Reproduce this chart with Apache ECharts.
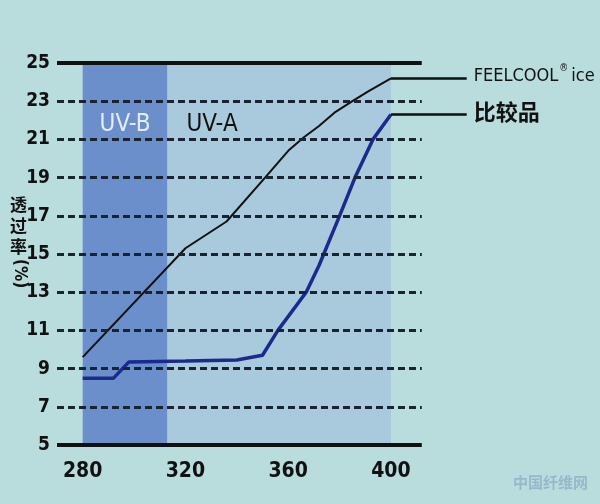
<!DOCTYPE html>
<html>
<head>
<meta charset="utf-8">
<script src="https://cdn.jsdelivr.net/npm/echarts@6/dist/echarts.min.js"></script>
<style>
html,body{margin:0;padding:0;background:#b9dcdc;}
#chart{width:600px;height:504px;}
</style>
</head>
<body>
<div id="chart"></div>
<script>
// ---- data ----
const X_TICKS = [280, 320, 360, 400];
const Y_TICKS = [5, 7, 9, 11, 13, 15, 17, 19, 21, 23, 25];
const DASHED_LEVELS = [7, 9, 11, 13, 15, 17, 19, 21, 23];
const SOLID_LEVELS = [5, 25];
const BAND_NAMES = ['UV-B', 'UV-A'];
const BAND_RANGES = [[280, 313], [313, 400]];
const SERIES_NAMES = ['FEELCOOL® ice', '比较品'];
const FEELCOOL = [[280, 9.6], [320, 15.3], [336, 16.7], [351, 19.0], [360, 20.4], [366, 21.1],
                  [372, 21.7], [378, 22.4], [385, 23.0], [391, 23.5], [400, 24.2]];
const COMPARE = [[280, 8.5], [292, 8.5], [298, 9.35], [320, 9.4], [340, 9.45], [350, 9.7],
                 [356, 11.0], [367, 13.0], [372, 14.4], [380, 17.0], [386, 19.0], [393, 21.0], [400, 22.3]];
const X_MIN = 270, X_MAX = 430, RULE_END = 412, Y_MIN = 5, Y_MAX = 25;
const LEADER_END = 429.5;
const Y_NAME_MAIN = '透\n过\n率';
const Y_NAME_UNIT = '(%)';

const NARROW = "'Liberation Sans Narrow','DejaVu Sans Condensed','Liberation Sans',sans-serif";
const CJK = "'Noto Sans CJK SC','Noto Sans CJK JP',sans-serif";

const chart = echarts.init(document.getElementById('chart'), null, {renderer: 'canvas'});

const dashedData = DASHED_LEVELS.map(v => [{coord: [X_MIN, v]}, {coord: [RULE_END, v]}]);
const solidData = SOLID_LEVELS.map(v => [
  {coord: [X_MIN, v], lineStyle: {type: 'solid', width: 4, color: '#111'}},
  {coord: [RULE_END, v]}
]);
const bandColors = ['#6b8fca', '#a8cadc'];
const bandLabels = [
  {show: true, position: ['50%', 50], align: 'center', color: '#e4ecf8', fontSize: 24, fontFamily: NARROW},
  {show: true, position: [19, 50], color: '#111', fontSize: 24, fontFamily: NARROW}
];
const bandData = BAND_RANGES.map((r, i) => [
  {name: BAND_NAMES[i], coord: [r[0], Y_MIN], itemStyle: {color: bandColors[i]}, label: bandLabels[i]},
  {coord: [r[1], Y_MAX]}
]);

function leader(series, labelOpt) {
  const last = series[series.length - 1];
  return {
    silent: true,
    symbol: ['none', 'none'],
    animation: false,
    lineStyle: {color: '#111', width: 2.5, type: 'solid'},
    label: labelOpt,
    data: [[{coord: [last[0], last[1]]}, {coord: [LEADER_END, last[1]]}]]
  };
}

const option = {
  backgroundColor: '#b9dcdc',
  animation: false,
  grid: {left: 57, right: 132, top: 63, bottom: 59},
  xAxis: {
    type: 'value', min: X_MIN, max: X_MAX,
    axisLine: {show: false},
    axisTick: {show: false},
    splitLine: {show: false},
    axisLabel: {customValues: X_TICKS, color: '#111', fontSize: 21, fontWeight: 'bold', fontFamily: NARROW, margin: 16}
  },
  yAxis: {
    type: 'value', min: Y_MIN, max: Y_MAX,
    axisLine: {show: false}, axisTick: {show: false}, splitLine: {show: false},
    axisLabel: {customValues: Y_TICKS, color: '#111', fontSize: 19, fontWeight: 'bold', fontFamily: NARROW, margin: 7}
  },
  graphic: [{
    type: 'text', x: 10, y: 194, silent: true,
    style: {text: Y_NAME_MAIN, fill: '#111', font: "bold 17px 'Noto Sans CJK SC'", lineHeight: 21, align: 'left', verticalAlign: 'top'}
  }, {
    type: 'text', x: 19, y: 259, rotation: -Math.PI / 2, silent: true,
    style: {text: Y_NAME_UNIT, fill: '#111', font: "bold 17px 'DejaVu Sans Condensed'", align: 'left', verticalAlign: 'middle'}
  }, {
    type: 'text', right: 12, bottom: 14, silent: true,
    style: {text: '中国纤维网', fill: 'rgba(110,140,185,0.45)', font: "bold 15px 'Noto Sans CJK SC'"}
  }],
  series: [{
    name: 'bg', type: 'line', data: [], z: 1, silent: true,
    markArea: {silent: true, data: bandData},
    markLine: {silent: true, symbol: ['none', 'none'], label: {show: false},
      lineStyle: {color: '#1a2330', width: 3, type: [7, 4]}, data: dashedData.concat(solidData)}
  }, {
    name: SERIES_NAMES[0], type: 'line', data: FEELCOOL, z: 3,
    symbol: 'none', lineStyle: {color: '#111', width: 2}, itemStyle: {color: '#111'},
    markLine: leader(FEELCOOL, {
      show: true, position: 'end', distance: 7, offset: [0, -4],
      formatter: '{a|FEELCOOL}{s|®}{a|ice}',
      rich: {
        a: {fontSize: 18, fontFamily: NARROW, color: '#111', lineHeight: 22, verticalAlign: 'bottom'},
        s: {fontSize: 10, fontFamily: NARROW, color: '#111', lineHeight: 22, verticalAlign: 'top', padding: [0, 3, 0, 1]}
      }
    })
  }, {
    name: SERIES_NAMES[1], type: 'line', data: COMPARE, z: 3,
    symbol: 'none', lineStyle: {color: '#1c2a8e', width: 3.5}, itemStyle: {color: '#1c2a8e'},
    markLine: leader(COMPARE, {
      show: true, position: 'end', distance: 7, offset: [0, -3],
      formatter: SERIES_NAMES[1],
      color: '#111', fontSize: 22, fontWeight: 'bold', fontFamily: CJK
    })
  }]
};
chart.setOption(option);
</script>
</body>
</html>
